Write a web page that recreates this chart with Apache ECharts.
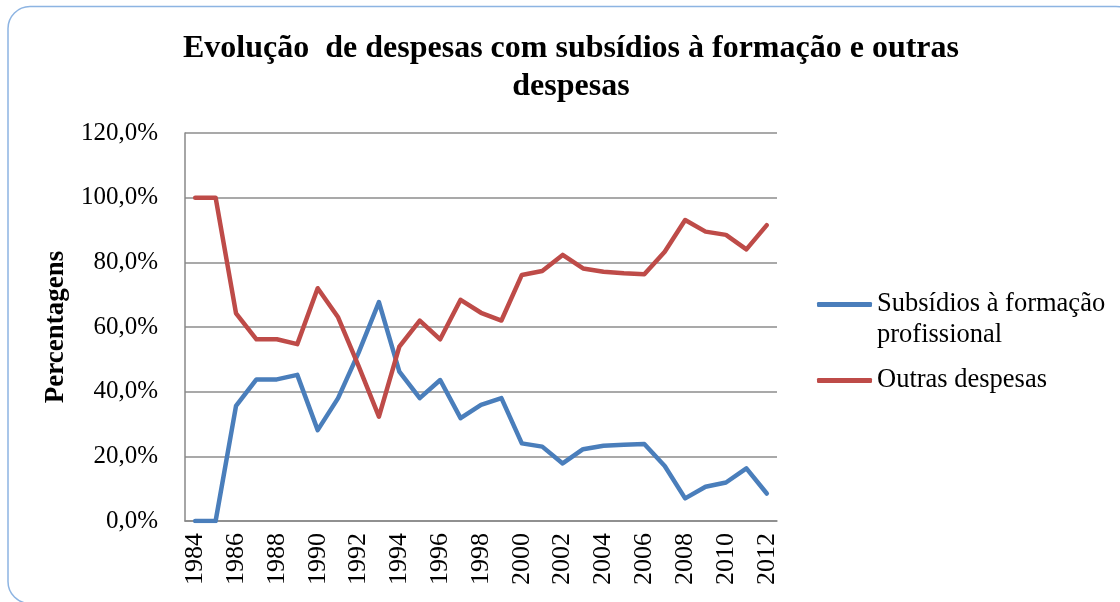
<!DOCTYPE html>
<html>
<head>
<meta charset="utf-8">
<script src="https://cdn.jsdelivr.net/npm/echarts@6/dist/echarts.min.js"></script>
<style>
  html, body { margin: 0; padding: 0; background: #fff; }
  #chart { width: 1120px; height: 602px; }
</style>
</head>
<body>
<div id="chart"></div>
<script>
// anos
var years = ['1984','1985','1986','1987','1988','1989','1990','1991','1992','1993',
  '1994','1995','1996','1997','1998','1999','2000','2001','2002','2003',
  '2004','2005','2006','2007','2008','2009','2010','2011','2012'];

// percentagens
var subsidios = [0, 0, 35.6, 43.8, 43.8, 45.2, 28.1, 38.0, 52.0, 67.7,
  46.2, 38.0, 43.6, 31.8, 35.9, 38.0, 24.0, 23.0, 17.8, 22.2,
  23.3, 23.6, 23.8, 17.0, 7.0, 10.6, 11.9, 16.3, 8.5];
var outras = [100, 100, 64.2, 56.2, 56.2, 54.7, 72.0, 63.0, 48.0, 32.3,
  53.9, 62.0, 56.2, 68.4, 64.4, 62.0, 76.1, 77.3, 82.3, 78.1,
  77.1, 76.6, 76.3, 83.3, 93.1, 89.5, 88.5, 84.0, 91.5];

var serif = '"Liberation Serif", "DejaVu Serif", serif';

var chart = echarts.init(document.getElementById('chart'));

var option = {
  backgroundColor: '#fff',
  animation: false,
  title: {
    text: 'Evolução  de despesas com subsídios à formação e outras\ndespesas',
    left: 566,
    top: 25,
    textAlign: 'center',
    textStyle: {
      fontFamily: serif,
      fontWeight: 'bold',
      fontSize: 32,
      lineHeight: 38,
      color: '#000'
    }
  },
  legend: {
    orient: 'vertical',
    left: 812,
    top: 253,
    itemWidth: 55,
    itemHeight: 5,
    itemGap: 14,
    icon: 'roundRect',
    textStyle: { fontFamily: serif, fontSize: 26.5, color: '#000', lineHeight: 31 },
    data: ['Subsídios à formação profissional', 'Outras despesas'],
    formatter: function (n) {
      // linha vazia no início para alinhar o traço com a primeira linha
      return n === 'Subsídios à formação profissional' ? ' \nSubsídios à formação\nprofissional' : n;
    },
    itemStyle: { borderWidth: 0 }
  },
  grid: { left: 185, right: 343, top: 133, bottom: 81, containLabel: false },
  xAxis: {
    type: 'category',
    data: years,
    boundaryGap: true,
    axisLine: { lineStyle: { color: '#888', width: 1.5 } },
    axisTick: { show: false },
    axisLabel: {
      rotate: 90,
      interval: 1,
      margin: 12,
      fontFamily: serif,
      fontSize: 26,
      color: '#000'
    }
  },
  yAxis: {
    type: 'value',
    min: 0,
    max: 120,
    interval: 20,
    name: 'Percentagens',
    nameLocation: 'middle',
    nameGap: 115,
    nameTextStyle: { fontFamily: serif, fontWeight: 'bold', fontSize: 27, color: '#000' },
    axisLine: { show: true, lineStyle: { color: '#888', width: 1.5 } },
    axisTick: { show: false },
    splitLine: { lineStyle: { color: '#8c8c8c', width: 1.5 } },
    axisLabel: {
      margin: 27,
      fontFamily: serif,
      fontSize: 25,
      color: '#000',
      formatter: function (v) { return v.toFixed(1).replace('.', ',') + '%'; }
    }
  },
  series: [
    {
      name: 'Subsídios à formação profissional',
      type: 'line',
      data: subsidios,
      symbol: 'none',
      color: '#4A7EBB',
      lineStyle: { width: 4.5, color: '#4A7EBB', cap: 'round', join: 'round' }
    },
    {
      name: 'Outras despesas',
      type: 'line',
      data: outras,
      symbol: 'none',
      color: '#BE4B48',
      lineStyle: { width: 4.5, color: '#BE4B48', cap: 'round', join: 'round' }
    }
  ],
  graphic: [
    {
      type: 'rect',
      silent: true,
      z: -1,
      shape: { x: 8, y: 6.5, width: 1130, height: 597, r: 22 },
      style: { fill: 'none', stroke: '#8DB4E2', lineWidth: 1.5 }
    }
  ]
};

chart.setOption(option);
</script>
</body>
</html>
